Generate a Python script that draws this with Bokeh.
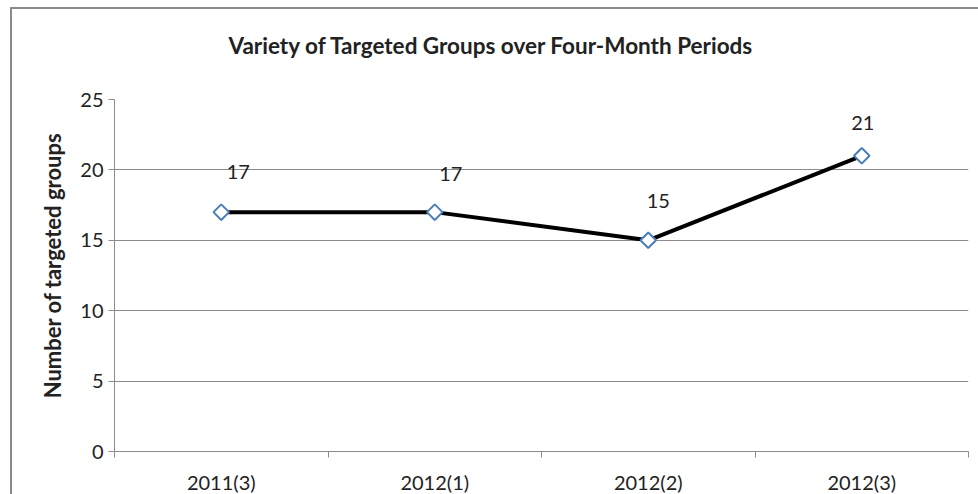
from bokeh.plotting import figure
from bokeh.models import FixedTicker, ColumnDataSource, Range1d, Title
from bokeh.embed import file_html
from bokeh.resources import INLINE
from bokeh.core.properties import value
import math

categories = ["2011(3)", "2012(1)", "2012(2)", "2012(3)"]
counts = [17, 17, 15, 21]
y_ticks = [0, 5, 10, 15, 20, 25]
title_text = "Variety of Targeted Groups over Four-Month Periods"
y_title = "Number of targeted groups"

# label placement offsets (screen px), style only
label_dx = [17, 16, 10, 1]
label_dy = [-40, -38, -39, -33]

FONT = "Lato"
GRID = "#8c8c8c"
TEXT = "#222222"

xs = [i + 0.5 for i in range(len(categories))]
bounds = [float(i) for i in range(len(categories) + 1)]

src = ColumnDataSource(dict(x=xs, y=counts, lbl=[str(c) for c in counts],
                            dx=label_dx, dy=label_dy))

p = figure(width=968, height=487, output_backend="svg", toolbar_location=None,
           x_range=Range1d(0, len(categories)), y_range=Range1d(0, y_ticks[-1]),
           min_border_left=102, min_border_right=12, min_border_top=90,
           min_border_bottom=44)
p.styles = {"margin-left": "10px", "margin-top": "7px",
            "border-left": "2px solid #8a8a8a", "border-top": "2px solid #8a8a8a"}
p.outline_line_color = None
p.background_fill_color = "white"
p.border_fill_color = "white"

# title (a blank spacer title sits between the frame and the real title)
p.title = None
p.add_layout(Title(text=" ", text_font_size="2px", standoff=36), "above")
p.add_layout(Title(text=title_text, align="left", offset=114,
                   vertical_align="middle",
                   text_font=FONT, text_font_style="bold",
                   text_font_size="22.5px", text_color=TEXT,
                   standoff=0), "above")

# axes
p.xaxis.ticker = FixedTicker(ticks=xs, minor_ticks=bounds)
p.xaxis.major_label_overrides = {x: c for x, c in zip(xs, categories)}
p.xaxis.major_tick_line_color = None
p.xaxis.minor_tick_line_color = GRID
p.xaxis.minor_tick_out = 6
p.xaxis.minor_tick_in = 0
p.xaxis.axis_line_color = GRID
p.xaxis.major_label_standoff = 12
p.xaxis.major_label_text_font = FONT
p.xaxis.major_label_text_font_size = "20px"
p.xaxis.major_label_text_color = TEXT

p.yaxis.ticker = FixedTicker(ticks=y_ticks)
p.yaxis.minor_tick_line_color = None
p.yaxis.major_tick_line_color = GRID
p.yaxis.major_tick_out = 6
p.yaxis.major_tick_in = 0
p.yaxis.axis_line_color = GRID
p.yaxis.major_label_standoff = 5
p.yaxis.major_label_text_font = FONT
p.yaxis.major_label_text_font_size = "20px"
p.yaxis.major_label_text_color = TEXT

# y-axis title, placed as a side title so it can sit slightly above centre
p.add_layout(Title(text=y_title, align="right", offset=33,
                   vertical_align="middle",
                   text_font=FONT, text_font_style="bold",
                   text_font_size="22px", text_color=TEXT,
                   standoff=22), "left")

p.xgrid.grid_line_color = None
p.ygrid.grid_line_color = GRID
p.ygrid.grid_line_width = 1

# series
p.line("x", "y", source=src, line_color="black", line_width=4)
p.scatter("x", "y", source=src, marker="square", size=11, angle=math.pi / 4,
          fill_color="white", line_color="#4a7ebb", line_width=2)
p.text("x", "y", text="lbl", source=src, x_offset="dx", y_offset="dy",
       text_align="center", text_baseline="middle",
       text_font=value(FONT), text_font_size="20px", text_color=TEXT)

open("out.html", "w").write(file_html(p, INLINE))
